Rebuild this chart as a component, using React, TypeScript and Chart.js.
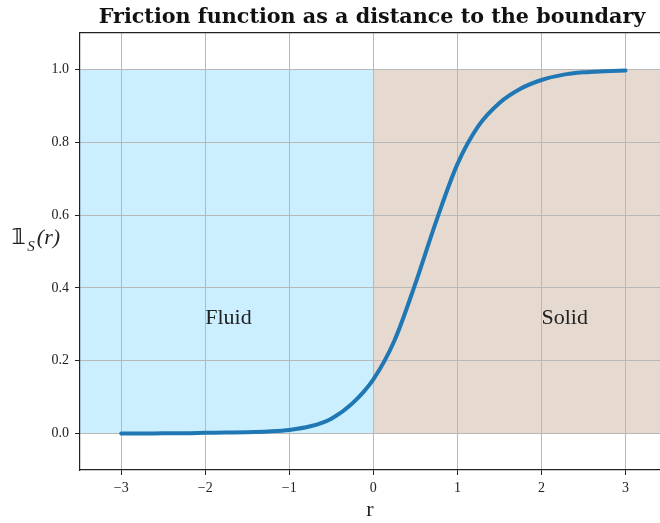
import React, { useEffect, useRef } from "react";
import { Chart, registerables } from "chart.js";

Chart.register(...registerables);

// ---- data ----
const rValues = [-3, -2.75, -2.5, -2.25, -2, -1.75, -1.5, -1.25, -1, -0.75, -0.5, -0.25, 0, 0.25, 0.5, 0.75, 1, 1.25, 1.5, 1.75, 2, 2.25, 2.5, 2.75, 3];
const frictionValues = [0.0, 0.0, 0.001, 0.001, 0.002, 0.003, 0.004, 0.006, 0.01, 0.02, 0.041, 0.083, 0.149, 0.255, 0.412, 0.585, 0.74, 0.845, 0.908, 0.947, 0.971, 0.985, 0.992, 0.995, 0.997];

const xTicks = [-3, -2, -1, 0, 1, 2, 3];
const yTicks = [0.0, 0.2, 0.4, 0.6, 0.8, 1.0];
const xRange = [-3.49, 3.41];
const yRange = [-0.1, 1.1];

const fluidRegionX = [-3.6, 0];
const solidRegionX = [0, 3.6];
const regionTop = 1;

const regionNames = ["Fluid", "Solid"];
const regionLabelX = [-2, 2];
const regionLabelY = 0.3;

const titleText = "Friction function as a distance to the boundary";
const xTitle = "r";

const SERIF = '"Liberation Serif", "DejaVu Serif", serif';

export default function App() {
  const canvasRef = useRef<HTMLCanvasElement | null>(null);

  useEffect(() => {
    const canvas = canvasRef.current;
    if (!canvas) return;

    const annotations = {
      id: "annotations",
      afterDatasetsDraw(chart: any) {
        const { ctx, scales } = chart;
        const xs = scales.x;
        const ys = scales.y;
        ctx.save();
        ctx.fillStyle = "#222";
        ctx.font = `22px ${SERIF}`;
        ctx.textAlign = "left";
        ctx.textBaseline = "alphabetic";
        regionNames.forEach((name, i) => {
          ctx.fillText(name, xs.getPixelForValue(regionLabelX[i]), ys.getPixelForValue(regionLabelY));
        });
        ctx.restore();
      },
      afterDraw(chart: any) {
        const { ctx, chartArea } = chart;
        ctx.save();
        // title
        ctx.fillStyle = "#111";
        ctx.font = `bold 20.7px "DejaVu Serif", serif`;
        ctx.textAlign = "center";
        ctx.textBaseline = "alphabetic";
        ctx.fillText(titleText, (chartArea.left + chartArea.right) / 2 + 2, 23);
        // y label: 1_S(r)
        ctx.textAlign = "left";
        ctx.fillStyle = "#222";
        ctx.font = `bold 22px "DejaVu Serif", "DejaVu Sans", serif`;
        ctx.fillText("\u{1D7D9}", 11, 244);
        const w1 = ctx.measureText("\u{1D7D9}").width;
        ctx.font = `italic 15px ${SERIF}`;
        ctx.fillText("S", 11 + w1 + 1, 251);
        const w2 = ctx.measureText("S").width;
        ctx.font = `italic 22px ${SERIF}`;
        ctx.fillText("(r)", 11 + w1 + 1 + w2 + 2, 244);
        ctx.restore();
      },
    };

    const chart = new Chart(canvas, {
      type: "line",
      data: {
        datasets: [
          {
            label: "friction",
            data: rValues.map((r, i) => ({ x: r, y: frictionValues[i] })),
            borderColor: "#1f77b4",
            borderWidth: 4,
            pointRadius: 0,
            fill: false,
            cubicInterpolationMode: "monotone",
            borderCapStyle: "round",
          },
          {
            label: "fluid",
            data: fluidRegionX.map((x) => ({ x, y: regionTop })),
            borderWidth: 0,
            pointRadius: 0,
            fill: "origin",
            backgroundColor: "rgb(204,239,255)",
          },
          {
            label: "solid",
            data: solidRegionX.map((x) => ({ x, y: regionTop })),
            borderWidth: 0,
            pointRadius: 0,
            fill: "origin",
            backgroundColor: "rgb(229,217,208)",
          },
        ],
      },
      options: {
        responsive: false,
        animation: false,
        layout: { padding: { top: 33, left: 0, right: 0, bottom: 0 } },
        plugins: {
          legend: { display: false },
          tooltip: { enabled: false },
          title: { display: false },
          filler: { drawTime: "beforeDraw" },
        },
        scales: {
          x: {
            type: "linear",
            position: "bottom",
            min: xRange[0],
            max: xRange[1],
            afterBuildTicks: (scale: any) => {
              scale.ticks = xTicks.map((v) => ({ value: v }));
            },
            afterFit: (scale: any) => {
              scale.height = 53;
            },
            ticks: {
              color: "#222",
              font: { family: SERIF, size: 14 },
              padding: 5,
              maxRotation: 0,
              callback: (v: any) => (Number(v) < 0 ? "\u2212" + Math.abs(Number(v)) : String(v)),
            },
            grid: { color: "#b8b8b8", lineWidth: 1, tickColor: "#222", tickLength: 5 },
            border: { color: "#222", width: 1.2 },
            title: {
              display: true,
              text: xTitle,
              color: "#222",
              font: { family: SERIF, size: 22 },
              padding: { top: 0, bottom: 0 },
            },
          },
          x2: {
            type: "linear",
            position: "top",
            min: xRange[0],
            max: xRange[1],
            ticks: { display: false },
            grid: { display: false },
            border: { display: true, color: "#222", width: 1.2 },
            afterFit: (scale: any) => {
              scale.height = 0;
            },
          },
          y: {
            type: "linear",
            min: yRange[0],
            max: yRange[1],
            afterBuildTicks: (scale: any) => {
              scale.ticks = yTicks.map((v) => ({ value: v }));
            },
            afterFit: (scale: any) => {
              scale.width = 80;
            },
            ticks: {
              color: "#222",
              font: { family: SERIF, size: 14 },
              padding: 6,
              callback: (v: any) => Number(v).toFixed(1),
            },
            grid: { color: "#b8b8b8", lineWidth: 1, tickColor: "#222", tickLength: 5 },
            border: { color: "#222", width: 1.2 },
          },
        },
      },
      plugins: [annotations],
    } as any);

    return () => chart.destroy();
  }, []);

  return (
    <div style={{ position: "fixed", left: 0, top: 0, width: 660, height: 523, background: "#fff" }}>
      <canvas ref={canvasRef} width={660} height={523} style={{ display: "block" }} />
    </div>
  );
}
